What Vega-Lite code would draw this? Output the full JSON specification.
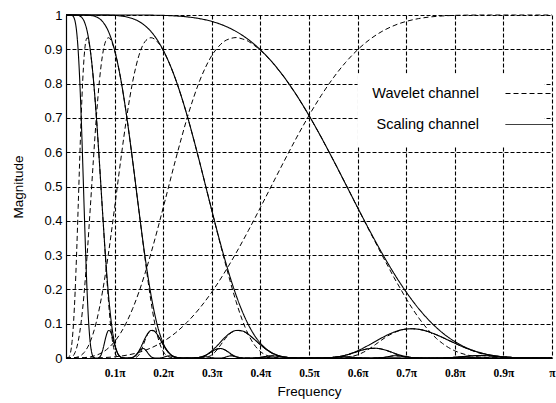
{
"$schema":"https://vega.github.io/schema/vega-lite/v6.json",
"width":486,"height":343,
"autosize":{"type":"none"},
"padding":{"left":66,"top":15,"right":4,"bottom":45},
"background":"white",
"config":{"view":{"stroke":null},"font":"Liberation Sans",
 "axis":{"grid":true,"gridColor":"black","gridDash":[4,2],"gridOpacity":1,"gridWidth":1.1,"domainColor":"black","domainWidth":1.2,"ticks":false,"labelColor":"black","titleColor":"black","titleFontWeight":"normal","labelOverlap":false}},
"datasets":{
"S1":[{"f":0,"m":1},{"f":0.025,"m":1},{"f":0.05,"m":1},{"f":0.075,"m":1},{"f":0.1,"m":1},{"f":0.125,"m":1},{"f":0.15,"m":0.9999},{"f":0.175,"m":0.9996},{"f":0.2,"m":0.9989},{"f":0.225,"m":0.9973},{"f":0.25,"m":0.9944},{"f":0.275,"m":0.9894},{"f":0.3,"m":0.9813},{"f":0.325,"m":0.9692},{"f":0.35,"m":0.952},{"f":0.375,"m":0.9287},{"f":0.4,"m":0.8986},{"f":0.425,"m":0.8613},{"f":0.45,"m":0.8167},{"f":0.475,"m":0.765},{"f":0.5,"m":0.7071},{"f":0.525,"m":0.644},{"f":0.55,"m":0.5771},{"f":0.575,"m":0.5081},{"f":0.6,"m":0.4387},{"f":0.625,"m":0.3709},{"f":0.65,"m":0.3062},{"f":0.675,"m":0.2463},{"f":0.7,"m":0.1923},{"f":0.725,"m":0.1451},{"f":0.75,"m":0.1054},{"f":0.775,"m":0.073},{"f":0.8,"m":0.0479},{"f":0.825,"m":0.0293},{"f":0.85,"m":0.0164},{"f":0.875,"m":0.0082},{"f":0.9,"m":0.0034},{"f":0.925,"m":0.0011},{"f":0.95,"m":0.0002},{"f":0.975,"m":0},{"f":1,"m":0}],
"W1":[{"f":0,"m":0},{"f":0.025,"m":0},{"f":0.05,"m":0.0002},{"f":0.075,"m":0.0011},{"f":0.1,"m":0.0034},{"f":0.125,"m":0.0082},{"f":0.15,"m":0.0164},{"f":0.175,"m":0.0293},{"f":0.2,"m":0.0479},{"f":0.225,"m":0.073},{"f":0.25,"m":0.1054},{"f":0.275,"m":0.1451},{"f":0.3,"m":0.1923},{"f":0.325,"m":0.2463},{"f":0.35,"m":0.3062},{"f":0.375,"m":0.3709},{"f":0.4,"m":0.4387},{"f":0.425,"m":0.5081},{"f":0.45,"m":0.5771},{"f":0.475,"m":0.644},{"f":0.5,"m":0.7071},{"f":0.525,"m":0.765},{"f":0.55,"m":0.8167},{"f":0.575,"m":0.8613},{"f":0.6,"m":0.8986},{"f":0.625,"m":0.9287},{"f":0.65,"m":0.952},{"f":0.675,"m":0.9692},{"f":0.7,"m":0.9813},{"f":0.725,"m":0.9894},{"f":0.75,"m":0.9944},{"f":0.775,"m":0.9973},{"f":0.8,"m":0.9989},{"f":0.825,"m":0.9996},{"f":0.85,"m":0.9999},{"f":0.875,"m":1},{"f":0.9,"m":1},{"f":0.925,"m":1},{"f":0.95,"m":1},{"f":0.975,"m":1},{"f":1,"m":1}],
"S2":[{"f":0,"m":1},{"f":0.0125,"m":1},{"f":0.025,"m":1},{"f":0.0375,"m":1},{"f":0.05,"m":1},{"f":0.0625,"m":1},{"f":0.075,"m":0.9999},{"f":0.0875,"m":0.9996},{"f":0.1,"m":0.9988},{"f":0.1125,"m":0.9973},{"f":0.125,"m":0.9944},{"f":0.1375,"m":0.9893},{"f":0.15,"m":0.9812},{"f":0.1625,"m":0.9689},{"f":0.175,"m":0.9516},{"f":0.1875,"m":0.928},{"f":0.2,"m":0.8976},{"f":0.2125,"m":0.8597},{"f":0.225,"m":0.8145},{"f":0.2375,"m":0.7619},{"f":0.25,"m":0.7032},{"f":0.2625,"m":0.6388},{"f":0.275,"m":0.571},{"f":0.2875,"m":0.5006},{"f":0.3,"m":0.4305},{"f":0.3125,"m":0.3617},{"f":0.325,"m":0.2968},{"f":0.3375,"m":0.2365},{"f":0.35,"m":0.183},{"f":0.3625,"m":0.1365},{"f":0.375,"m":0.0979},{"f":0.3875,"m":0.0667},{"f":0.4,"m":0.0431},{"f":0.4125,"m":0.0258},{"f":0.425,"m":0.0142},{"f":0.4375,"m":0.0069},{"f":0.45,"m":0.0028},{"f":0.4625,"m":0.0009},{"f":0.475,"m":0.0002},{"f":0.4875,"m":0},{"f":0.5125,"m":0},{"f":0.525,"m":0.0001},{"f":0.5375,"m":0.0007},{"f":0.55,"m":0.002},{"f":0.5625,"m":0.0044},{"f":0.575,"m":0.0083},{"f":0.5875,"m":0.0139},{"f":0.6,"m":0.021},{"f":0.6125,"m":0.0296},{"f":0.625,"m":0.0391},{"f":0.6375,"m":0.0491},{"f":0.65,"m":0.0589},{"f":0.6625,"m":0.068},{"f":0.675,"m":0.0754},{"f":0.6875,"m":0.0813},{"f":0.7,"m":0.0844},{"f":0.7125,"m":0.0852},{"f":0.725,"m":0.0838},{"f":0.7375,"m":0.0803},{"f":0.75,"m":0.0745},{"f":0.7625,"m":0.0675},{"f":0.775,"m":0.0597},{"f":0.7875,"m":0.0513},{"f":0.8,"m":0.0431},{"f":0.8125,"m":0.0352},{"f":0.825,"m":0.0279},{"f":0.8375,"m":0.0216},{"f":0.85,"m":0.0161},{"f":0.8625,"m":0.0117},{"f":0.875,"m":0.0081},{"f":0.8875,"m":0.0054},{"f":0.9,"m":0.0034},{"f":0.9125,"m":0.002},{"f":0.925,"m":0.0011},{"f":0.9375,"m":0.0005},{"f":0.95,"m":0.0002},{"f":0.975,"m":0},{"f":1,"m":0}],
"W2":[{"f":0,"m":0},{"f":0.0125,"m":0},{"f":0.025,"m":0.0002},{"f":0.0375,"m":0.0011},{"f":0.05,"m":0.0034},{"f":0.0625,"m":0.0082},{"f":0.075,"m":0.0164},{"f":0.0875,"m":0.0293},{"f":0.1,"m":0.0479},{"f":0.1125,"m":0.073},{"f":0.125,"m":0.1054},{"f":0.1375,"m":0.1451},{"f":0.15,"m":0.1922},{"f":0.1625,"m":0.2462},{"f":0.175,"m":0.3061},{"f":0.1875,"m":0.3706},{"f":0.2,"m":0.4382},{"f":0.2125,"m":0.5071},{"f":0.225,"m":0.5755},{"f":0.2375,"m":0.6413},{"f":0.25,"m":0.7032},{"f":0.2625,"m":0.7589},{"f":0.275,"m":0.808},{"f":0.2875,"m":0.8487},{"f":0.3,"m":0.8819},{"f":0.3125,"m":0.9057},{"f":0.325,"m":0.9227},{"f":0.3375,"m":0.931},{"f":0.35,"m":0.9342},{"f":0.3625,"m":0.9304},{"f":0.375,"m":0.9235},{"f":0.3875,"m":0.9112},{"f":0.4,"m":0.8976},{"f":0.4125,"m":0.8796},{"f":0.425,"m":0.8612},{"f":0.4375,"m":0.839},{"f":0.45,"m":0.8167},{"f":0.4625,"m":0.7909},{"f":0.475,"m":0.765},{"f":0.4875,"m":0.7361},{"f":0.5,"m":0.7071},{"f":0.5125,"m":0.6756},{"f":0.525,"m":0.644},{"f":0.5375,"m":0.6105},{"f":0.55,"m":0.5771},{"f":0.5625,"m":0.5426},{"f":0.575,"m":0.508},{"f":0.5875,"m":0.4732},{"f":0.6,"m":0.4382},{"f":0.6125,"m":0.4037},{"f":0.625,"m":0.3688},{"f":0.6375,"m":0.3349},{"f":0.65,"m":0.3005},{"f":0.6625,"m":0.2677},{"f":0.675,"m":0.2344},{"f":0.6875,"m":0.2036},{"f":0.7,"m":0.1728},{"f":0.7125,"m":0.1448},{"f":0.725,"m":0.1185},{"f":0.7375,"m":0.0952},{"f":0.75,"m":0.0745},{"f":0.7625,"m":0.0565},{"f":0.775,"m":0.0422},{"f":0.7875,"m":0.0301},{"f":0.8,"m":0.021},{"f":0.8125,"m":0.014},{"f":0.825,"m":0.009},{"f":0.8375,"m":0.0054},{"f":0.85,"m":0.0032},{"f":0.8625,"m":0.0017},{"f":0.875,"m":0.0009},{"f":0.8875,"m":0.0004},{"f":0.9,"m":0.0002},{"f":0.925,"m":0},{"f":1,"m":0}],
"S3":[{"f":0,"m":1},{"f":0.0125,"m":1},{"f":0.025,"m":1},{"f":0.0375,"m":0.9999},{"f":0.05,"m":0.9989},{"f":0.0625,"m":0.9944},{"f":0.075,"m":0.9812},{"f":0.0875,"m":0.9516},{"f":0.1,"m":0.8975},{"f":0.1125,"m":0.8145},{"f":0.125,"m":0.7032},{"f":0.1375,"m":0.5709},{"f":0.15,"m":0.4305},{"f":0.1625,"m":0.2967},{"f":0.175,"m":0.183},{"f":0.1875,"m":0.0978},{"f":0.2,"m":0.043},{"f":0.2125,"m":0.0141},{"f":0.225,"m":0.0028},{"f":0.2375,"m":0.0002},{"f":0.25,"m":0},{"f":0.2625,"m":0.0001},{"f":0.275,"m":0.002},{"f":0.2875,"m":0.0082},{"f":0.3,"m":0.0206},{"f":0.3125,"m":0.0381},{"f":0.325,"m":0.0571},{"f":0.3375,"m":0.0724},{"f":0.35,"m":0.0803},{"f":0.3625,"m":0.0788},{"f":0.375,"m":0.0692},{"f":0.3875,"m":0.0545},{"f":0.4,"m":0.0387},{"f":0.4125,"m":0.0246},{"f":0.425,"m":0.0139},{"f":0.4375,"m":0.0069},{"f":0.45,"m":0.0028},{"f":0.4625,"m":0.0009},{"f":0.475,"m":0.0002},{"f":0.4875,"m":0},{"f":0.5125,"m":0},{"f":0.525,"m":0.0001},{"f":0.5375,"m":0.0007},{"f":0.55,"m":0.002},{"f":0.5625,"m":0.0044},{"f":0.575,"m":0.0081},{"f":0.5875,"m":0.0132},{"f":0.6,"m":0.0189},{"f":0.6125,"m":0.0242},{"f":0.625,"m":0.0276},{"f":0.6375,"m":0.0283},{"f":0.65,"m":0.0258},{"f":0.6625,"m":0.0208},{"f":0.675,"m":0.0145},{"f":0.6875,"m":0.0086},{"f":0.7,"m":0.004},{"f":0.7125,"m":0.0014},{"f":0.725,"m":0.0003},{"f":0.7375,"m":0},{"f":0.7625,"m":0},{"f":0.775,"m":0.0002},{"f":0.7875,"m":0.0008},{"f":0.8,"m":0.0021},{"f":0.8125,"m":0.0037},{"f":0.825,"m":0.0054},{"f":0.8375,"m":0.0066},{"f":0.85,"m":0.0071},{"f":0.8625,"m":0.0068},{"f":0.875,"m":0.0057},{"f":0.8875,"m":0.0045},{"f":0.9,"m":0.0031},{"f":0.9125,"m":0.002},{"f":0.925,"m":0.0011},{"f":0.9375,"m":0.0005},{"f":0.95,"m":0.0002},{"f":0.9625,"m":0},{"f":1,"m":0}],
"W3":[{"f":0,"m":0},{"f":0.0125,"m":0.0002},{"f":0.025,"m":0.0034},{"f":0.0375,"m":0.0164},{"f":0.05,"m":0.0479},{"f":0.0625,"m":0.1054},{"f":0.075,"m":0.1923},{"f":0.0875,"m":0.3061},{"f":0.1,"m":0.4382},{"f":0.1125,"m":0.5755},{"f":0.125,"m":0.7032},{"f":0.1375,"m":0.8079},{"f":0.15,"m":0.8817},{"f":0.1625,"m":0.9224},{"f":0.175,"m":0.9338},{"f":0.1875,"m":0.9228},{"f":0.2,"m":0.8966},{"f":0.2125,"m":0.8596},{"f":0.225,"m":0.8145},{"f":0.2375,"m":0.7619},{"f":0.25,"m":0.7032},{"f":0.2625,"m":0.6388},{"f":0.275,"m":0.571},{"f":0.2875,"m":0.5005},{"f":0.3,"m":0.43},{"f":0.3125,"m":0.3597},{"f":0.325,"m":0.2913},{"f":0.3375,"m":0.2251},{"f":0.35,"m":0.1644},{"f":0.3625,"m":0.1115},{"f":0.375,"m":0.0692},{"f":0.3875,"m":0.0385},{"f":0.4,"m":0.0189},{"f":0.4125,"m":0.0079},{"f":0.425,"m":0.0027},{"f":0.4375,"m":0.0007},{"f":0.45,"m":0.0001},{"f":0.4625,"m":0},{"f":0.5375,"m":0},{"f":0.55,"m":0.0001},{"f":0.5625,"m":0.0005},{"f":0.575,"m":0.0016},{"f":0.5875,"m":0.0043},{"f":0.6,"m":0.0092},{"f":0.6125,"m":0.0171},{"f":0.625,"m":0.0276},{"f":0.6375,"m":0.0401},{"f":0.65,"m":0.0529},{"f":0.6625,"m":0.0647},{"f":0.675,"m":0.074},{"f":0.6875,"m":0.0808},{"f":0.7,"m":0.0843},{"f":0.7125,"m":0.0852},{"f":0.725,"m":0.0838},{"f":0.7375,"m":0.0803},{"f":0.75,"m":0.0745},{"f":0.7625,"m":0.0675},{"f":0.775,"m":0.0597},{"f":0.7875,"m":0.0513},{"f":0.8,"m":0.0431},{"f":0.8125,"m":0.035},{"f":0.825,"m":0.0274},{"f":0.8375,"m":0.0206},{"f":0.85,"m":0.0145},{"f":0.8625,"m":0.0096},{"f":0.875,"m":0.0057},{"f":0.8875,"m":0.0032},{"f":0.9,"m":0.0015},{"f":0.9125,"m":0.0006},{"f":0.925,"m":0.0002},{"f":0.9375,"m":0},{"f":1,"m":0}],
"S4":[{"f":0,"m":1},{"f":0.00625,"m":1},{"f":0.0125,"m":1},{"f":0.01875,"m":0.9999},{"f":0.025,"m":0.9989},{"f":0.03125,"m":0.9944},{"f":0.0375,"m":0.9812},{"f":0.04375,"m":0.9516},{"f":0.05,"m":0.8975},{"f":0.05625,"m":0.8145},{"f":0.0625,"m":0.7032},{"f":0.06875,"m":0.5709},{"f":0.075,"m":0.4305},{"f":0.08125,"m":0.2967},{"f":0.0875,"m":0.183},{"f":0.09375,"m":0.0978},{"f":0.1,"m":0.043},{"f":0.10625,"m":0.0141},{"f":0.1125,"m":0.0028},{"f":0.11875,"m":0.0002},{"f":0.125,"m":0},{"f":0.13125,"m":0.0001},{"f":0.1375,"m":0.002},{"f":0.14375,"m":0.0082},{"f":0.15,"m":0.0206},{"f":0.15625,"m":0.0381},{"f":0.1625,"m":0.0571},{"f":0.16875,"m":0.0724},{"f":0.175,"m":0.0803},{"f":0.18125,"m":0.0788},{"f":0.1875,"m":0.0691},{"f":0.19375,"m":0.0544},{"f":0.2,"m":0.0387},{"f":0.20625,"m":0.0246},{"f":0.2125,"m":0.0139},{"f":0.21875,"m":0.0069},{"f":0.225,"m":0.0028},{"f":0.23125,"m":0.0009},{"f":0.2375,"m":0.0002},{"f":0.24375,"m":0},{"f":0.25625,"m":0},{"f":0.2625,"m":0.0001},{"f":0.26875,"m":0.0007},{"f":0.275,"m":0.002},{"f":0.28125,"m":0.0043},{"f":0.2875,"m":0.008},{"f":0.29375,"m":0.013},{"f":0.3,"m":0.0185},{"f":0.30625,"m":0.0237},{"f":0.3125,"m":0.0269},{"f":0.31875,"m":0.0275},{"f":0.325,"m":0.025},{"f":0.33125,"m":0.0201},{"f":0.3375,"m":0.0139},{"f":0.34375,"m":0.0082},{"f":0.35,"m":0.0038},{"f":0.35625,"m":0.0013},{"f":0.3625,"m":0.0003},{"f":0.36875,"m":0},{"f":0.38125,"m":0},{"f":0.3875,"m":0.0002},{"f":0.39375,"m":0.0007},{"f":0.4,"m":0.0019},{"f":0.40625,"m":0.0033},{"f":0.4125,"m":0.0048},{"f":0.41875,"m":0.0057},{"f":0.425,"m":0.0061},{"f":0.43125,"m":0.0058},{"f":0.4375,"m":0.0048},{"f":0.44375,"m":0.0037},{"f":0.45,"m":0.0025},{"f":0.45625,"m":0.0016},{"f":0.4625,"m":0.0009},{"f":0.46875,"m":0.0004},{"f":0.475,"m":0.0002},{"f":0.48125,"m":0},{"f":0.5125,"m":0},{"f":0.525,"m":0.0001},{"f":0.5375,"m":0.0007},{"f":0.55,"m":0.0018},{"f":0.5625,"m":0.0031},{"f":0.575,"m":0.0036},{"f":0.5875,"m":0.0026},{"f":0.6,"m":0.0009},{"f":0.6125,"m":0.0001},{"f":0.625,"m":0},{"f":0.6375,"m":0.0001},{"f":0.65,"m":0.0012},{"f":0.6625,"m":0.004},{"f":0.675,"m":0.0064},{"f":0.6875,"m":0.0061},{"f":0.7,"m":0.0036},{"f":0.7125,"m":0.0014},{"f":0.725,"m":0.0003},{"f":0.7375,"m":0},{"f":0.7625,"m":0},{"f":0.775,"m":0.0002},{"f":0.7875,"m":0.0008},{"f":0.8,"m":0.0019},{"f":0.8125,"m":0.0026},{"f":0.825,"m":0.0024},{"f":0.8375,"m":0.0013},{"f":0.85,"m":0.0003},{"f":0.8625,"m":0},{"f":0.8875,"m":0},{"f":0.9,"m":0.0001},{"f":0.9125,"m":0.0004},{"f":0.925,"m":0.0005},{"f":0.9375,"m":0.0004},{"f":0.95,"m":0.0002},{"f":0.975,"m":0},{"f":1,"m":0}],
"W4":[{"f":0,"m":0},{"f":0.00625,"m":0.0002},{"f":0.0125,"m":0.0034},{"f":0.01875,"m":0.0164},{"f":0.025,"m":0.0479},{"f":0.03125,"m":0.1054},{"f":0.0375,"m":0.1923},{"f":0.04375,"m":0.3061},{"f":0.05,"m":0.4382},{"f":0.05625,"m":0.5755},{"f":0.0625,"m":0.7032},{"f":0.06875,"m":0.8079},{"f":0.075,"m":0.8817},{"f":0.08125,"m":0.9224},{"f":0.0875,"m":0.9338},{"f":0.09375,"m":0.9228},{"f":0.1,"m":0.8966},{"f":0.10625,"m":0.8596},{"f":0.1125,"m":0.8145},{"f":0.11875,"m":0.7619},{"f":0.125,"m":0.7032},{"f":0.13125,"m":0.6387},{"f":0.1375,"m":0.5709},{"f":0.14375,"m":0.5004},{"f":0.15,"m":0.4299},{"f":0.15625,"m":0.3596},{"f":0.1625,"m":0.2912},{"f":0.16875,"m":0.225},{"f":0.175,"m":0.1643},{"f":0.18125,"m":0.1114},{"f":0.1875,"m":0.0691},{"f":0.19375,"m":0.0385},{"f":0.2,"m":0.0189},{"f":0.20625,"m":0.0079},{"f":0.2125,"m":0.0027},{"f":0.21875,"m":0.0007},{"f":0.225,"m":0.0001},{"f":0.23125,"m":0},{"f":0.26875,"m":0},{"f":0.275,"m":0.0001},{"f":0.28125,"m":0.0005},{"f":0.2875,"m":0.0016},{"f":0.29375,"m":0.0042},{"f":0.3,"m":0.009},{"f":0.30625,"m":0.0167},{"f":0.3125,"m":0.0269},{"f":0.31875,"m":0.039},{"f":0.325,"m":0.0513},{"f":0.33125,"m":0.0624},{"f":0.3375,"m":0.0711},{"f":0.34375,"m":0.0772},{"f":0.35,"m":0.0803},{"f":0.35625,"m":0.0806},{"f":0.3625,"m":0.0788},{"f":0.36875,"m":0.0751},{"f":0.375,"m":0.0692},{"f":0.38125,"m":0.0622},{"f":0.3875,"m":0.0546},{"f":0.39375,"m":0.0465},{"f":0.4,"m":0.0387},{"f":0.40625,"m":0.0311},{"f":0.4125,"m":0.0241},{"f":0.41875,"m":0.0179},{"f":0.425,"m":0.0125},{"f":0.43125,"m":0.0082},{"f":0.4375,"m":0.0048},{"f":0.44375,"m":0.0026},{"f":0.45,"m":0.0012},{"f":0.45625,"m":0.0005},{"f":0.4625,"m":0.0002},{"f":0.46875,"m":0},{"f":0.525,"m":0},{"f":0.5375,"m":0.0001},{"f":0.55,"m":0.0009},{"f":0.5625,"m":0.0031},{"f":0.575,"m":0.0074},{"f":0.5875,"m":0.013},{"f":0.6,"m":0.0189},{"f":0.6125,"m":0.0242},{"f":0.625,"m":0.0276},{"f":0.6375,"m":0.0284},{"f":0.65,"m":0.0258},{"f":0.6625,"m":0.0204},{"f":0.675,"m":0.013},{"f":0.6875,"m":0.0061},{"f":0.7,"m":0.0018},{"f":0.7125,"m":0.0003},{"f":0.725,"m":0},{"f":0.775,"m":0},{"f":0.7875,"m":0.0002},{"f":0.8,"m":0.0009},{"f":0.8125,"m":0.0026},{"f":0.825,"m":0.0048},{"f":0.8375,"m":0.0065},{"f":0.85,"m":0.0071},{"f":0.8625,"m":0.0068},{"f":0.875,"m":0.0058},{"f":0.8875,"m":0.0045},{"f":0.9,"m":0.0031},{"f":0.9125,"m":0.002},{"f":0.925,"m":0.001},{"f":0.9375,"m":0.0004},{"f":0.95,"m":0.0001},{"f":0.975,"m":0},{"f":1,"m":0}],
"S5":[{"f":0,"m":1},{"f":0.003125,"m":1},{"f":0.00625,"m":1},{"f":0.009375,"m":0.9999},{"f":0.0125,"m":0.9989},{"f":0.015625,"m":0.9944},{"f":0.01875,"m":0.9812},{"f":0.021875,"m":0.9516},{"f":0.025,"m":0.8975},{"f":0.028125,"m":0.8145},{"f":0.03125,"m":0.7032},{"f":0.034375,"m":0.5709},{"f":0.0375,"m":0.4305},{"f":0.040625,"m":0.2967},{"f":0.04375,"m":0.183},{"f":0.046875,"m":0.0978},{"f":0.05,"m":0.043},{"f":0.053125,"m":0.0141},{"f":0.05625,"m":0.0028},{"f":0.059375,"m":0.0002},{"f":0.0625,"m":0},{"f":0.065625,"m":0.0001},{"f":0.06875,"m":0.002},{"f":0.071875,"m":0.0082},{"f":0.075,"m":0.0206},{"f":0.078125,"m":0.0381},{"f":0.08125,"m":0.0571},{"f":0.084375,"m":0.0724},{"f":0.0875,"m":0.0803},{"f":0.090625,"m":0.0788},{"f":0.09375,"m":0.0691},{"f":0.096875,"m":0.0544},{"f":0.1,"m":0.0387},{"f":0.103125,"m":0.0246},{"f":0.10625,"m":0.0139},{"f":0.109375,"m":0.0069},{"f":0.1125,"m":0.0028},{"f":0.115625,"m":0.0009},{"f":0.11875,"m":0.0002},{"f":0.121875,"m":0},{"f":0.128125,"m":0},{"f":0.13125,"m":0.0001},{"f":0.134375,"m":0.0007},{"f":0.1375,"m":0.002},{"f":0.140625,"m":0.0043},{"f":0.14375,"m":0.008},{"f":0.146875,"m":0.013},{"f":0.15,"m":0.0185},{"f":0.153125,"m":0.0237},{"f":0.15625,"m":0.0269},{"f":0.159375,"m":0.0275},{"f":0.1625,"m":0.025},{"f":0.165625,"m":0.0201},{"f":0.16875,"m":0.0139},{"f":0.171875,"m":0.0082},{"f":0.175,"m":0.0038},{"f":0.178125,"m":0.0013},{"f":0.18125,"m":0.0003},{"f":0.184375,"m":0},{"f":0.190625,"m":0},{"f":0.19375,"m":0.0002},{"f":0.196875,"m":0.0007},{"f":0.2,"m":0.0019},{"f":0.203125,"m":0.0033},{"f":0.20625,"m":0.0048},{"f":0.209375,"m":0.0057},{"f":0.2125,"m":0.0061},{"f":0.215625,"m":0.0058},{"f":0.21875,"m":0.0048},{"f":0.221875,"m":0.0037},{"f":0.225,"m":0.0025},{"f":0.228125,"m":0.0016},{"f":0.23125,"m":0.0009},{"f":0.234375,"m":0.0004},{"f":0.2375,"m":0.0002},{"f":0.240625,"m":0},{"f":0.25625,"m":0},{"f":0.2625,"m":0.0001},{"f":0.26875,"m":0.0007},{"f":0.275,"m":0.0018},{"f":0.28125,"m":0.0031},{"f":0.2875,"m":0.0035},{"f":0.29375,"m":0.0026},{"f":0.3,"m":0.0009},{"f":0.30625,"m":0.0001},{"f":0.3125,"m":0},{"f":0.31875,"m":0.0001},{"f":0.325,"m":0.0012},{"f":0.33125,"m":0.0039},{"f":0.3375,"m":0.0062},{"f":0.34375,"m":0.0058},{"f":0.35,"m":0.0034},{"f":0.35625,"m":0.0013},{"f":0.3625,"m":0.0003},{"f":0.36875,"m":0},{"f":0.38125,"m":0},{"f":0.3875,"m":0.0002},{"f":0.39375,"m":0.0007},{"f":0.4,"m":0.0017},{"f":0.40625,"m":0.0023},{"f":0.4125,"m":0.0021},{"f":0.41875,"m":0.0011},{"f":0.425,"m":0.0003},{"f":0.43125,"m":0},{"f":0.44375,"m":0},{"f":0.45,"m":0.0001},{"f":0.45625,"m":0.0003},{"f":0.4625,"m":0.0004},{"f":0.46875,"m":0.0003},{"f":0.475,"m":0.0002},{"f":0.48125,"m":0},{"f":0.5,"m":0},{"f":0.575,"m":0.0002},{"f":0.6,"m":0.0008},{"f":0.625,"m":0},{"f":0.65,"m":0.0011},{"f":0.675,"m":0.0003},{"f":0.7,"m":0.0002},{"f":0.725,"m":0.0003},{"f":0.75,"m":0},{"f":0.8,"m":0.0001},{"f":0.85,"m":0.0003},{"f":0.9,"m":0},{"f":1,"m":0}],
"W5":[{"f":0,"m":0},{"f":0.003125,"m":0.0002},{"f":0.00625,"m":0.0034},{"f":0.009375,"m":0.0164},{"f":0.0125,"m":0.0479},{"f":0.015625,"m":0.1054},{"f":0.01875,"m":0.1923},{"f":0.021875,"m":0.3061},{"f":0.025,"m":0.4382},{"f":0.028125,"m":0.5755},{"f":0.03125,"m":0.7032},{"f":0.034375,"m":0.8079},{"f":0.0375,"m":0.8817},{"f":0.040625,"m":0.9224},{"f":0.04375,"m":0.9338},{"f":0.046875,"m":0.9228},{"f":0.05,"m":0.8966},{"f":0.053125,"m":0.8596},{"f":0.05625,"m":0.8145},{"f":0.059375,"m":0.7619},{"f":0.0625,"m":0.7032},{"f":0.065625,"m":0.6387},{"f":0.06875,"m":0.5709},{"f":0.071875,"m":0.5004},{"f":0.075,"m":0.4299},{"f":0.078125,"m":0.3596},{"f":0.08125,"m":0.2912},{"f":0.084375,"m":0.225},{"f":0.0875,"m":0.1643},{"f":0.090625,"m":0.1114},{"f":0.09375,"m":0.0691},{"f":0.096875,"m":0.0385},{"f":0.1,"m":0.0189},{"f":0.103125,"m":0.0079},{"f":0.10625,"m":0.0027},{"f":0.109375,"m":0.0007},{"f":0.1125,"m":0.0001},{"f":0.115625,"m":0},{"f":0.134375,"m":0},{"f":0.1375,"m":0.0001},{"f":0.140625,"m":0.0005},{"f":0.14375,"m":0.0016},{"f":0.146875,"m":0.0042},{"f":0.15,"m":0.009},{"f":0.153125,"m":0.0167},{"f":0.15625,"m":0.0269},{"f":0.159375,"m":0.039},{"f":0.1625,"m":0.0513},{"f":0.165625,"m":0.0624},{"f":0.16875,"m":0.0711},{"f":0.171875,"m":0.0772},{"f":0.175,"m":0.0803},{"f":0.178125,"m":0.0806},{"f":0.18125,"m":0.0788},{"f":0.184375,"m":0.0751},{"f":0.1875,"m":0.0691},{"f":0.190625,"m":0.0622},{"f":0.19375,"m":0.0545},{"f":0.196875,"m":0.0465},{"f":0.2,"m":0.0387},{"f":0.203125,"m":0.0311},{"f":0.20625,"m":0.0241},{"f":0.209375,"m":0.0179},{"f":0.2125,"m":0.0125},{"f":0.215625,"m":0.0082},{"f":0.21875,"m":0.0048},{"f":0.221875,"m":0.0026},{"f":0.225,"m":0.0012},{"f":0.228125,"m":0.0005},{"f":0.23125,"m":0.0002},{"f":0.234375,"m":0},{"f":0.2625,"m":0},{"f":0.26875,"m":0.0001},{"f":0.275,"m":0.0009},{"f":0.28125,"m":0.0031},{"f":0.2875,"m":0.0073},{"f":0.29375,"m":0.0128},{"f":0.3,"m":0.0185},{"f":0.30625,"m":0.0237},{"f":0.3125,"m":0.0269},{"f":0.31875,"m":0.0276},{"f":0.325,"m":0.025},{"f":0.33125,"m":0.0197},{"f":0.3375,"m":0.0125},{"f":0.34375,"m":0.0058},{"f":0.35,"m":0.0017},{"f":0.35625,"m":0.0003},{"f":0.3625,"m":0},{"f":0.3875,"m":0},{"f":0.39375,"m":0.0002},{"f":0.4,"m":0.0008},{"f":0.40625,"m":0.0023},{"f":0.4125,"m":0.0042},{"f":0.41875,"m":0.0057},{"f":0.425,"m":0.0061},{"f":0.43125,"m":0.0058},{"f":0.4375,"m":0.0049},{"f":0.44375,"m":0.0037},{"f":0.45,"m":0.0025},{"f":0.45625,"m":0.0016},{"f":0.4625,"m":0.0008},{"f":0.46875,"m":0.0003},{"f":0.475,"m":0.0001},{"f":0.48125,"m":0},{"f":0.5,"m":0},{"f":0.525,"m":0.0001},{"f":0.55,"m":0.0018},{"f":0.575,"m":0.0036},{"f":0.6,"m":0.0004},{"f":0.625,"m":0},{"f":0.65,"m":0.0006},{"f":0.6625,"m":0.0036},{"f":0.675,"m":0.0064},{"f":0.6875,"m":0.006},{"f":0.7,"m":0.0036},{"f":0.725,"m":0.0001},{"f":0.75,"m":0},{"f":0.775,"m":0.0001},{"f":0.8,"m":0.0019},{"f":0.825,"m":0.0024},{"f":0.85,"m":0.0001},{"f":0.875,"m":0},{"f":1,"m":0}]
},
"layer":[
 {"data":{"values":[{}]},"mark":{"type":"rect","fill":"white"},
  "encoding":{"x":{"datum":0.6,"type":"quantitative"},"x2":{"datum":0.985},"y":{"datum":0.615,"type":"quantitative","axis":{"values":[0,0.1,0.2,0.3,0.4,0.5,0.6,0.7,0.8,0.9,1],"labelOverlap":false,"format":".1~f"}},"y2":{"datum":0.83}}},
 {"encoding":{
   "x":{"field":"f","type":"quantitative","title":"Frequency","scale":{"domain":[0,1],"nice":false,"zero":false},
        "axis":{"values":[0.1,0.2,0.3,0.4,0.5,0.6,0.7,0.8,0.9,1],"labelExpr":"datum.value == 1 ? 'π' : format(datum.value, '.1f') + 'π'","labelFont":"Liberation Serif","labelFontWeight":"bold","labelFontSize":11.5,"labelPadding":9,"labelFlush":false,"titleFont":"Liberation Sans","titleFontSize":13.5,"titlePadding":6}},
   "y":{"field":"m","type":"quantitative","title":"Magnitude","scale":{"domain":[0,1],"nice":false},
        "axis":{"values":[0,0.1,0.2,0.3,0.4,0.5,0.6,0.7,0.8,0.9,1],"labelOverlap":false,"tickCount":11,"format":".1~f","labelFont":"Liberation Sans","labelFontSize":13,"labelPadding":4,"titleFont":"Liberation Sans","titleFontSize":13.5,"titlePadding":18}}},
  "layer":[
   {"data":{"name":"W1"},"mark":{"type":"line","interpolate":"monotone","color":"black","strokeWidth":1},
    "encoding":{"strokeDash":{"datum":"Wavelet channel","type":"nominal",
      "scale":{"domain":["Wavelet channel","Scaling channel"],"range":[[5,3],[1,0]]},
      "legend":{"orient":"none","legendX":439,"legendY":54.5,"title":null,"symbolType":"stroke","symbolSize":2209,"symbolStrokeColor":"black","symbolStrokeWidth":1,"labelAlign":"right","labelOffset":-74,"labelFont":"Liberation Sans","labelFontSize":14.5,"labelColor":"black","rowPadding":-9,"padding":0,"labelLimit":300}}}},
   {"data":{"name":"W2"},"mark":{"type":"line","interpolate":"monotone","color":"black","strokeWidth":1},"encoding":{"strokeDash":{"datum":"Wavelet channel","type":"nominal"}}},
   {"data":{"name":"W3"},"mark":{"type":"line","interpolate":"monotone","color":"black","strokeWidth":1},"encoding":{"strokeDash":{"datum":"Wavelet channel","type":"nominal"}}},
   {"data":{"name":"W4"},"mark":{"type":"line","interpolate":"monotone","color":"black","strokeWidth":1},"encoding":{"strokeDash":{"datum":"Wavelet channel","type":"nominal"}}},
   {"data":{"name":"W5"},"mark":{"type":"line","interpolate":"monotone","color":"black","strokeWidth":1},"encoding":{"strokeDash":{"datum":"Wavelet channel","type":"nominal"}}},
   {"data":{"name":"S1"},"mark":{"type":"line","interpolate":"monotone","color":"black","strokeWidth":1.1},"encoding":{"strokeDash":{"datum":"Scaling channel","type":"nominal"}}},
   {"data":{"name":"S2"},"mark":{"type":"line","interpolate":"monotone","color":"black","strokeWidth":1.1},"encoding":{"strokeDash":{"datum":"Scaling channel","type":"nominal"}}},
   {"data":{"name":"S3"},"mark":{"type":"line","interpolate":"monotone","color":"black","strokeWidth":1.1},"encoding":{"strokeDash":{"datum":"Scaling channel","type":"nominal"}}},
   {"data":{"name":"S4"},"mark":{"type":"line","interpolate":"monotone","color":"black","strokeWidth":1.1},"encoding":{"strokeDash":{"datum":"Scaling channel","type":"nominal"}}},
   {"data":{"name":"S5"},"mark":{"type":"line","interpolate":"monotone","color":"black","strokeWidth":1.1},"encoding":{"strokeDash":{"datum":"Scaling channel","type":"nominal"}}}
  ]}
]
}
